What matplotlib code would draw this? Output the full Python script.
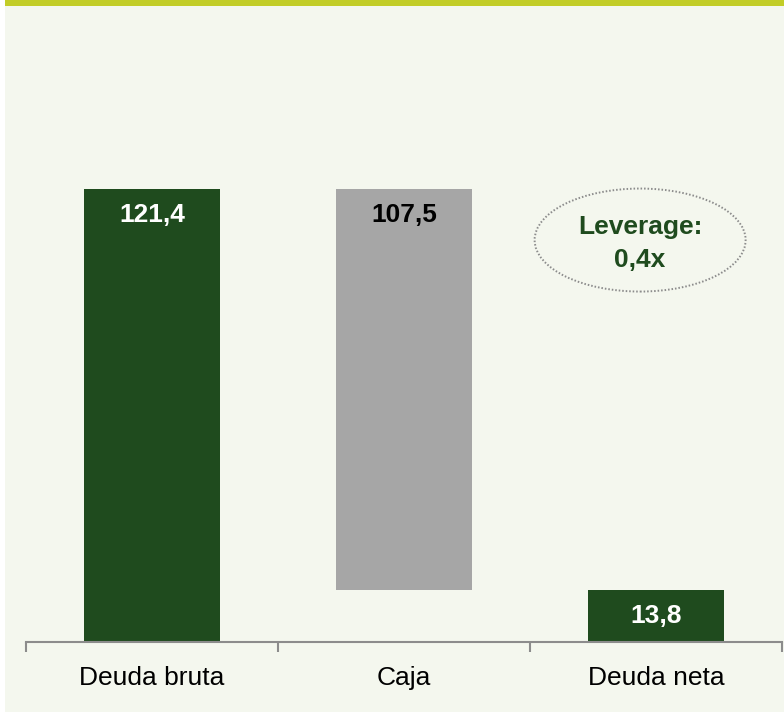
import matplotlib
matplotlib.use("Agg")
import matplotlib.pyplot as plt
from matplotlib.patches import Rectangle, Ellipse
from matplotlib import font_manager

categories = ["Deuda bruta", "Caja", "Deuda neta"]
values = [121.4, -107.5, 13.8]
labels = ["121,4", "107,5", "13,8"]
leverage_text = "Leverage:\n0,4x"

names = {f.name for f in font_manager.fontManager.ttflist}
narrow = "Liberation Sans Narrow" if "Liberation Sans Narrow" in names else "Liberation Sans"
fam = [narrow, "DejaVu Sans"]

DARK = "#1f4b1e"
GRAY = "#a6a6a6"
BG = "#f4f7ee"
BAND = "#c2cd27"

fig = plt.figure(figsize=(7.84, 7.12), dpi=100, facecolor="white")
fig.patches.append(Rectangle((5/784, 0), 1 - 5/784, 1 - 6/712, transform=fig.transFigure,
                             facecolor=BG, edgecolor="none", zorder=-5))
fig.patches.append(Rectangle((5/784, 1 - 6/712), 1 - 5/784, 6/712, transform=fig.transFigure,
                             facecolor=BAND, edgecolor="none", zorder=-5))

ax = fig.add_axes([26/784, 1 - 641.7/712, 756/784, 559.4/712])
ax.set_facecolor("none")
ax.set_zorder(2)

# waterfall computation
bottoms, heights, colors, tops = [], [], [], []
run = 0.0
for i, v in enumerate(values):
    if i == len(values) - 1:
        bottoms.append(0); heights.append(v); colors.append(DARK); tops.append(v)
    elif v >= 0:
        bottoms.append(run); heights.append(v); colors.append(DARK); run += v; tops.append(run)
    else:
        tops.append(run); run += v; bottoms.append(run); heights.append(-v); colors.append(GRAY)

x = list(range(len(categories)))
ax.bar(x, heights, bottom=bottoms, width=0.54, color=colors, edgecolor="none", zorder=2)

txtcolors = ["white", "black", "white"]
for xi, t, lab, c in zip(x, tops, labels, txtcolors):
    ax.text(xi, t - 7.0, lab, ha="center", va="center", color=c, fontsize=19,
            fontweight="bold", family=fam, zorder=3)

ax.set_xlim(-0.5, 2.5)
ax.set_ylim(0, 150)
for s in ["top", "right", "left"]:
    ax.spines[s].set_visible(False)
ax.spines["bottom"].set_color("#8c8c8c")
ax.spines["bottom"].set_linewidth(1.5)
ax.set_yticks([])
ax.set_xticks([-0.5, 0.5, 1.5, 2.5])
ax.set_xticklabels([])
ax.tick_params(axis="x", length=7, width=1.5, color="#8c8c8c", direction="out")
for xi, cat in zip(x, categories):
    ax.text(xi, -9.8, cat, ha="center", va="center", fontsize=19, family=fam,
            color="black", clip_on=False)

# leverage ellipse
ex, ey = 1.937, 107.7
ax.add_patch(Ellipse((ex, ey), 211/252, 103/3.729, facecolor="none", edgecolor="#8c8c8c",
                     linestyle=(0, (0.8, 1.0)), linewidth=1.4, zorder=3))
ax.text(ex, ey - 0.9, leverage_text, ha="center", va="center", color=DARK, fontsize=19,
        fontweight="bold", family=fam, linespacing=1.5, zorder=4)

fig.savefig("out.png", dpi=100, facecolor="white")
